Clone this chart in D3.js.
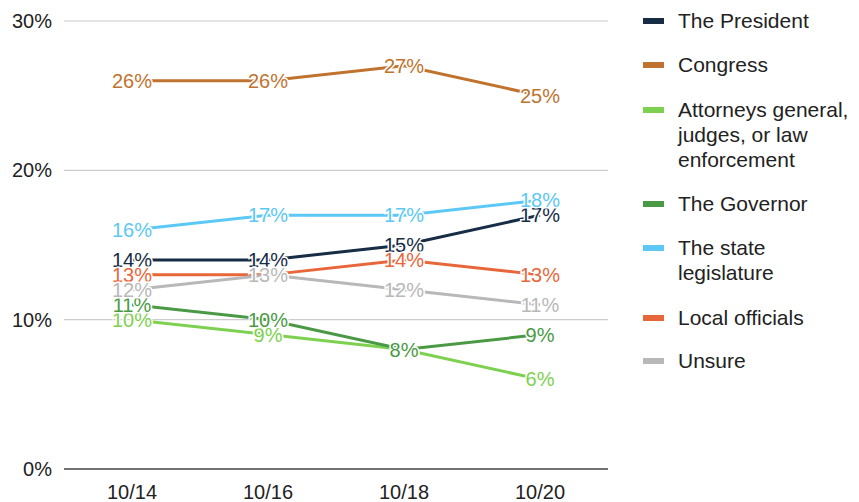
<!doctype html>
<html>
<head>
<meta charset="utf-8">
<title>Trust by date</title>
<script src="https://cdnjs.cloudflare.com/ajax/libs/d3/7.8.5/d3.min.js"></script>
<style>
  body { margin: 0; background: #fff; }
  text { font-family: "Liberation Sans", Arial, sans-serif; }
</style>
</head>
<body>
<svg width="859" height="502"></svg>
<script>
// data
var dates = ["10/14", "10/16", "10/18", "10/20"];
var yTicks = [0, 10, 20, 30];

var president   = [14, 14, 15, 17];
var congress    = [26, 26, 27, 25];
var attorneys   = [10, 9, 8, 6];
var governor    = [11, 10, 8, 9];
var legislature = [16, 17, 17, 18];
var local       = [13, 13, 14, 13];
var unsure      = [12, 13, 12, 11];

var legendLines = [["The President"], ["Congress"], ["Attorneys general,", "judges, or law", "enforcement"],
  ["The Governor"], ["The state", "legislature"], ["Local officials"], ["Unsure"]];
var colors = ["#172c45", "#c0732e", "#7ed150", "#4a9a45", "#5bc8f5", "#e8673a", "#b8b8b8"];
var values = [president, congress, attorneys, governor, legislature, local, unsure];

var svg = d3.select("svg");
var plotLeft = 64, plotRight = 608, plotTop = 21, plotBottom = 469;

var x = d3.scalePoint().domain(dates).range([plotLeft, plotRight]).padding(0.5);
var y = d3.scaleLinear().domain([0, 30]).range([plotBottom, plotTop]);

// gridlines
svg.append("g").selectAll("line")
  .data(yTicks)
  .join("line")
  .attr("x1", plotLeft).attr("x2", plotRight)
  .attr("y1", function(d) { return y(d); })
  .attr("y2", function(d) { return y(d); })
  .attr("stroke", function(d) { return d === 0 ? "#444" : "#cccccc"; })
  .attr("stroke-width", function(d) { return d === 0 ? 1.5 : 1.2; });

// y labels
svg.append("g").selectAll("text")
  .data(yTicks)
  .join("text")
  .attr("x", 52)
  .attr("y", function(d) { return y(d); })
  .attr("dy", "0.35em")
  .attr("text-anchor", "end")
  .attr("font-size", 20)
  .attr("fill", "#222")
  .text(function(d) { return d + "%"; });

// x labels
svg.append("g").selectAll("text")
  .data(dates)
  .join("text")
  .attr("x", function(d) { return x(d); })
  .attr("y", 499)
  .attr("text-anchor", "middle")
  .attr("font-size", 20)
  .attr("fill", "#222")
  .text(function(d) { return d; });

var line = d3.line()
  .x(function(d, i) { return x(dates[i]); })
  .y(function(d) { return y(d); });

values.forEach(function(vals, k) {
  var g = svg.append("g");
  g.append("path")
    .attr("d", line(vals))
    .attr("fill", "none")
    .attr("stroke", colors[k])
    .attr("stroke-width", 3);
  g.selectAll("text")
    .data(vals)
    .join("text")
    .attr("x", function(d, i) { return x(dates[i]); })
    .attr("y", function(d) { return y(d); })
    .attr("dy", "0.35em")
    .attr("text-anchor", "middle")
    .attr("font-size", 20)
    .attr("fill", colors[k])
    .attr("stroke", "#fff")
    .attr("stroke-width", 3)
    .attr("paint-order", "stroke")
    .text(function(d) { return d + "%"; });
});

// legend
var legendY = [21, 65, 110, 204, 248, 318, 361];
var legend = svg.append("g");
legendLines.forEach(function(lines, k) {
  var item = legend.append("g").attr("transform", "translate(643," + legendY[k] + ")");
  item.append("rect")
    .attr("x", 0).attr("y", -3)
    .attr("width", 21).attr("height", 6)
    .attr("fill", colors[k]);
  item.selectAll("text")
    .data(lines)
    .join("text")
    .attr("x", 35)
    .attr("y", function(d, i) { return i * 25; })
    .attr("dy", "0.35em")
    .attr("font-size", 21)
    .attr("fill", "#222")
    .text(function(d) { return d; });
});
</script>
</body>
</html>
